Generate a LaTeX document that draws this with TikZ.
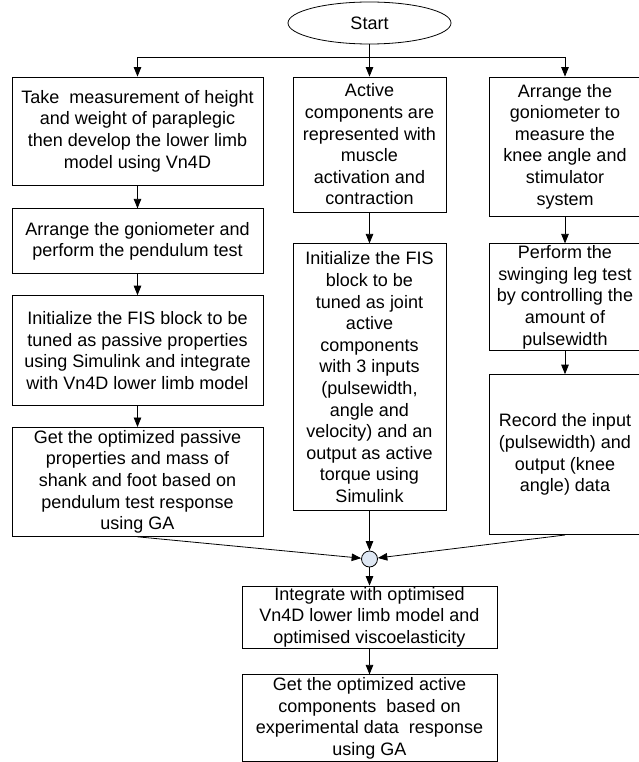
\documentclass[tikz,border=0pt]{standalone}
\usepackage{fontspec}
\setmainfont{Liberation Sans}
\usetikzlibrary{arrows.meta,positioning,shapes.geometric}
\definecolor{joinfill}{RGB}{222,231,243}

\tikzset{
  stepbox/.style={draw, line width=0.8pt, align=center, inner sep=1pt,
    font=\fontsize{18}{21.6}\selectfont},
}

\begin{document}
\begin{tikzpicture}[x=1pt, y=-1pt, >={Triangle[length=9.5pt,width=7.5pt]}, line width=0.8pt]
  \useasboundingbox (0,0) rectangle (638,762);

  \node[draw, ellipse, minimum width=163pt, minimum height=42pt, inner sep=0pt, font=\fontsize{18}{21.6}\selectfont] (start) at (369.5,23) {Start};

  % left column
  \node[stepbox, minimum width=251pt, minimum height=108pt] (meas) at (137.5,131) {Take~ measurement of height\\and weight of paraplegic\\then develop the lower limb\\model using Vn4D};
  \node[stepbox, minimum width=251pt, minimum height=65pt, below=23pt of meas] (pend) {Arrange the goniometer and\\perform the pendulum test};
  \node[stepbox, minimum width=251pt, minimum height=110pt, below=21pt of pend] (fispas) {Initialize the FIS block to be\\tuned as passive properties\\using Simulink and integrate\\with Vn4D lower limb model};
  \node[stepbox, minimum width=251pt, minimum height=109pt, below=21pt of fispas] (optpas) {Get the optimized passive\\properties and mass of\\shank and foot based on\\pendulum test response\\using GA};

  % middle column
  \node[stepbox, minimum width=153pt, minimum height=135pt] (active) at (369.5,144.5) {Active\\components are\\represented with\\muscle\\activation and\\contraction};
  \node[stepbox, minimum width=153pt, minimum height=267pt, below=31pt of active] (fisact) {Initialize the FIS\\block to be\\tuned as joint\\active\\components\\with 3 inputs\\(pulsewidth,\\angle and\\velocity) and an\\output as active\\torque using\\Simulink};

  % right column
  \node[stepbox, minimum width=152pt, minimum height=139pt] (gonio) at (565,146.5) {Arrange the\\goniometer to\\measure the\\knee angle and\\stimulator\\system};
  \node[stepbox, minimum width=152pt, minimum height=107pt, below=27pt of gonio] (swing) {Perform the\\swinging leg test\\by controlling the\\amount of\\pulsewidth};
  \node[stepbox, minimum width=152pt, minimum height=160pt, below=23pt of swing] (record) {Record the input\\(pulsewidth) and\\output (knee\\angle) data};

  % merge and final steps
  \node[draw, circle, fill=joinfill, minimum size=16pt, inner sep=0pt] (join) at (369.5,559) {};
  \node[stepbox, minimum width=255pt, minimum height=62pt] (integ) at (369.5,617) {Integrate with optimised\\Vn4D lower limb model and\\optimised viscoelasticity};
  \node[stepbox, minimum width=255pt, minimum height=87pt, below=26pt of integ] (optact) {Get the optimized active\\components~ based on\\experimental data~ response\\using GA};

  \draw (start.south) -- ++(0,13) coordinate (fork);
  \draw[->] (fork) -| (meas.north);
  \draw[->] (fork) -- (active.north);
  \draw[->] (fork) -| (gonio.north);

  \draw[->] (meas) -- (pend);
  \draw[->] (pend) -- (fispas);
  \draw[->] (fispas) -- (optpas);
  \draw[->] (active) -- (fisact);
  \draw[->] (gonio) -- (swing);
  \draw[->] (swing) -- (record);

  \draw[->] (optpas.south) -- (join);
  \draw[->] (fisact.south) -- (join);
  \draw[->] (record.south) -- (join);
  \draw[->] (join) -- (integ);
  \draw[->] (integ) -- (optact);
\end{tikzpicture}
\end{document}
